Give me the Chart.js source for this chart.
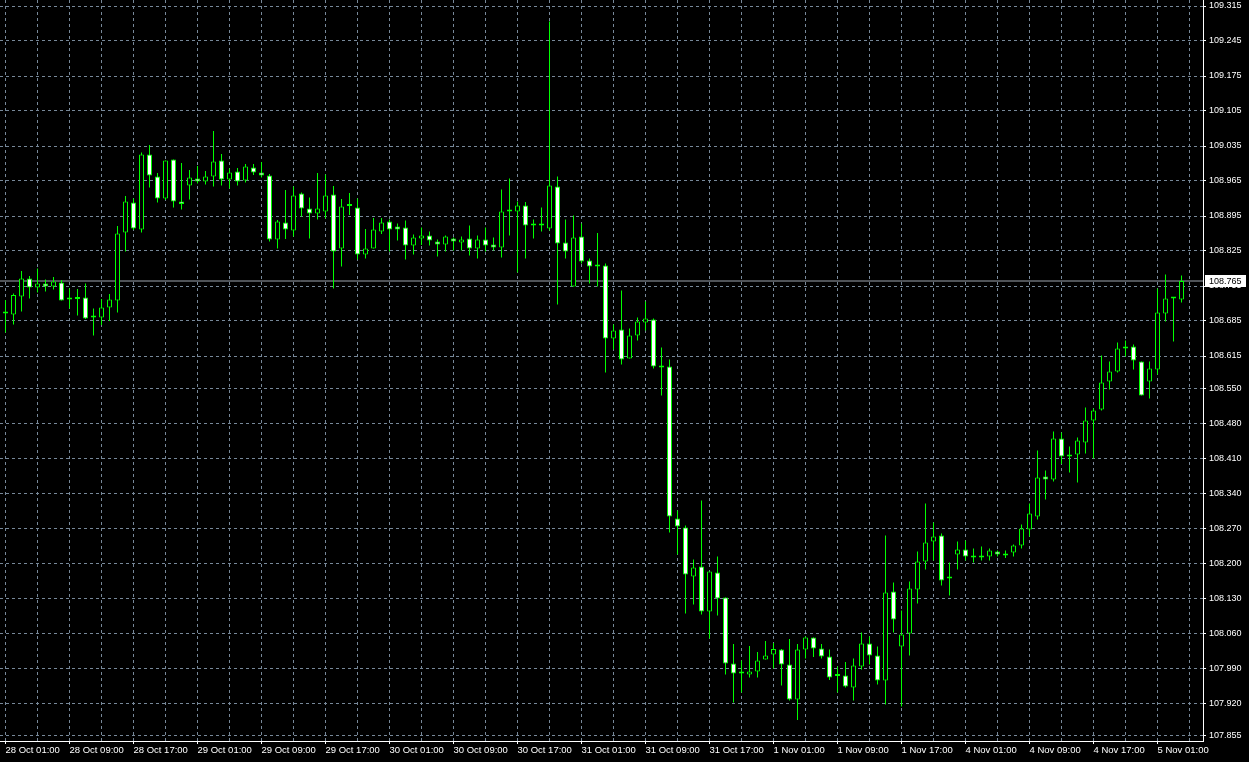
<!DOCTYPE html>
<html>
<head>
<meta charset="utf-8">
<title>USDJPY H1</title>
<script src="https://cdn.jsdelivr.net/npm/chart.js@4.4.1/dist/chart.umd.min.js"></script>
<style>
  html, body { margin: 0; padding: 0; background: #000; }
  #wrap { width: 1249px; height: 762px; background: #000; }
</style>
</head>
<body>
<div id="wrap"><canvas id="chart" width="1249" height="762"></canvas></div>
<script>
// hourly bars, 28 Oct 01:00 -> 5 Nov 04:00
const openPrices = [
  108.700, 108.698, 108.734, 108.770, 108.752, 108.760, 108.754, 108.762, 108.728, 108.729,
  108.732, 108.692, 108.692, 108.712, 108.726, 108.862, 108.922, 108.868, 109.018, 108.974,
  108.930, 109.008, 108.924, 108.956, 108.970, 108.964, 108.974, 109.006, 108.968, 108.984,
  108.966, 108.992, 108.982, 108.976, 108.848, 108.882, 108.866, 108.940, 108.910, 108.900,
  108.904, 108.938, 108.830, 108.915, 108.912, 108.818, 108.830, 108.864, 108.884, 108.874,
  108.872, 108.836, 108.850, 108.856, 108.844, 108.838, 108.850, 108.842, 108.850, 108.830,
  108.848, 108.838, 108.832, 108.904, 108.904, 108.916, 108.876, 108.876, 108.870, 108.954,
  108.842, 108.754, 108.854, 108.806, 108.794, 108.796, 108.650, 108.668, 108.610, 108.656,
  108.682, 108.688, 108.592, 108.594, 108.290, 108.272, 108.174, 108.194, 108.104, 108.182,
  108.132, 108.000, 107.980, 107.978, 107.984, 108.008, 108.018, 108.028, 107.998, 107.928,
  108.028, 108.052, 108.030, 108.014, 107.975, 107.976, 107.952, 107.994, 108.040, 108.016,
  107.966, 108.144, 108.034, 108.060, 108.148, 108.204, 108.244, 108.256, 108.170, 108.218,
  108.228, 108.216, 108.216, 108.214, 108.224, 108.216, 108.222, 108.236, 108.268, 108.294,
  108.374, 108.368, 108.450, 108.414, 108.418, 108.442, 108.486, 108.508, 108.564, 108.584,
  108.630, 108.634, 108.604, 108.564, 108.588, 108.700, 108.730, 108.728
];
const highPrices = [
  108.727, 108.740, 108.785, 108.775, 108.790, 108.768, 108.773, 108.767, 108.750, 108.749,
  108.760, 108.710, 108.729, 108.739, 108.875, 108.935, 108.930, 109.022, 109.037, 108.981,
  109.006, 109.008, 109.001, 108.987, 108.995, 108.985, 109.065, 109.019, 108.990, 108.991,
  108.999, 108.999, 109.003, 108.979, 108.887, 108.947, 108.954, 108.942, 108.932, 108.981,
  108.978, 108.955, 108.929, 108.941, 108.930, 108.869, 108.891, 108.891, 108.888, 108.880,
  108.886, 108.858, 108.872, 108.864, 108.848, 108.856, 108.852, 108.854, 108.876, 108.856,
  108.872, 108.852, 108.948, 108.970, 108.924, 108.923, 108.888, 108.912, 109.284, 108.974,
  108.888, 108.896, 108.880, 108.810, 108.861, 108.800, 108.678, 108.746, 108.670, 108.692,
  108.724, 108.690, 108.632, 108.608, 108.306, 108.276, 108.208, 108.326, 108.184, 108.214,
  108.132, 108.039, 108.006, 108.035, 108.023, 108.045, 108.041, 108.029, 108.049, 108.039,
  108.054, 108.052, 108.039, 108.028, 107.994, 108.003, 108.010, 108.062, 108.054, 108.034,
  108.256, 108.162, 108.106, 108.164, 108.224, 108.320, 108.282, 108.260, 108.202, 108.244,
  108.246, 108.230, 108.234, 108.230, 108.226, 108.226, 108.238, 108.278, 108.320, 108.426,
  108.386, 108.464, 108.462, 108.434, 108.452, 108.512, 108.510, 108.616, 108.604, 108.642,
  108.646, 108.638, 108.604, 108.604, 108.750, 108.778, 108.732, 108.776
];
const lowPrices = [
  108.662, 108.678, 108.704, 108.730, 108.742, 108.744, 108.748, 108.726, 108.710, 108.696,
  108.689, 108.656, 108.677, 108.685, 108.702, 108.824, 108.867, 108.862, 108.952, 108.922,
  108.927, 108.912, 108.908, 108.928, 108.960, 108.958, 108.954, 108.956, 108.950, 108.956,
  108.962, 108.977, 108.972, 108.844, 108.830, 108.849, 108.854, 108.894, 108.850, 108.888,
  108.890, 108.750, 108.794, 108.897, 108.808, 108.810, 108.830, 108.859, 108.824, 108.846,
  108.808, 108.818, 108.837, 108.836, 108.814, 108.824, 108.826, 108.826, 108.816, 108.810,
  108.824, 108.826, 108.812, 108.856, 108.782, 108.810, 108.850, 108.864, 108.866, 108.718,
  108.810, 108.754, 108.800, 108.760, 108.754, 108.582, 108.628, 108.598, 108.610, 108.646,
  108.666, 108.590, 108.536, 108.262, 108.218, 108.100, 108.118, 108.098, 108.050, 108.096,
  107.978, 107.922, 107.942, 107.972, 107.972, 108.008, 107.990, 107.956, 107.926, 107.887,
  108.010, 108.013, 108.010, 107.967, 107.942, 107.952, 107.926, 107.988, 107.998, 107.958,
  107.918, 108.062, 107.914, 108.016, 108.120, 108.188, 108.206, 108.156, 108.136, 108.188,
  108.206, 108.202, 108.206, 108.206, 108.214, 108.211, 108.214, 108.230, 108.254, 108.288,
  108.328, 108.364, 108.399, 108.382, 108.362, 108.420, 108.410, 108.506, 108.548, 108.582,
  108.614, 108.588, 108.536, 108.530, 108.578, 108.684, 108.644, 108.722
];
const closePrices = [
  108.700, 108.737, 108.770, 108.752, 108.760, 108.754, 108.764, 108.726, 108.728, 108.729,
  108.690, 108.692, 108.712, 108.728, 108.860, 108.924, 108.870, 109.018, 108.976, 108.930,
  109.006, 108.924, 108.919, 108.972, 108.964, 108.974, 109.004, 108.968, 108.982, 108.964,
  108.994, 108.982, 108.976, 108.848, 108.884, 108.868, 108.936, 108.910, 108.900, 108.910,
  108.936, 108.824, 108.914, 108.915, 108.818, 108.830, 108.868, 108.882, 108.868, 108.868,
  108.836, 108.852, 108.856, 108.846, 108.838, 108.854, 108.844, 108.848, 108.830, 108.848,
  108.836, 108.832, 108.904, 108.904, 108.916, 108.876, 108.876, 108.876, 108.956, 108.840,
  108.824, 108.852, 108.804, 108.794, 108.794, 108.650, 108.666, 108.608, 108.656, 108.684,
  108.690, 108.594, 108.592, 108.294, 108.274, 108.178, 108.192, 108.104, 108.184, 108.130,
  108.000, 107.980, 107.980, 107.984, 108.006, 108.016, 108.029, 107.998, 107.928, 108.028,
  108.052, 108.030, 108.014, 107.972, 107.975, 107.954, 107.996, 108.040, 108.016, 107.966,
  108.142, 108.088, 108.058, 108.150, 108.204, 108.242, 108.254, 108.166, 108.170, 108.228,
  108.214, 108.212, 108.212, 108.226, 108.218, 108.220, 108.236, 108.270, 108.300, 108.372,
  108.368, 108.450, 108.414, 108.418, 108.446, 108.486, 108.506, 108.562, 108.584, 108.630,
  108.634, 108.606, 108.536, 108.590, 108.702, 108.730, 108.730, 108.765
];

// one label every 8 bars, starting at bar 0
const timeLabels = [
  '28 Oct 01:00', '28 Oct 09:00', '28 Oct 17:00', '29 Oct 01:00', '29 Oct 09:00',
  '29 Oct 17:00', '30 Oct 01:00', '30 Oct 09:00', '30 Oct 17:00', '31 Oct 01:00',
  '31 Oct 09:00', '31 Oct 17:00', '1 Nov 01:00', '1 Nov 09:00', '1 Nov 17:00',
  '4 Nov 01:00', '4 Nov 09:00', '4 Nov 17:00', '5 Nov 01:00'
];
const priceTicks = [
  109.315, 109.245, 109.175, 109.105, 109.035, 108.965, 108.895, 108.825, 108.755, 108.685,
  108.615, 108.550, 108.480, 108.410, 108.340, 108.270, 108.200, 108.130, 108.060, 107.990,
  107.920, 107.855
];

const GREEN = '#00ff00';
const GRID = '#778899';
const FAMILY = '"Liberation Sans", Arial, sans-serif';

const xMin = -0.6875;
const xMax = 149.6875;

const idx = openPrices.map((_, i) => i);
const wicks = idx.map(i => ({ x: i, y: [lowPrices[i], highPrices[i]] }));
const bodies = idx.map(i => ({
  x: i,
  y: [Math.min(openPrices[i], closePrices[i]), Math.max(openPrices[i], closePrices[i])]
}));
const bodyFill = idx.map(i => closePrices[i] < openPrices[i] ? '#ffffff' : '#000000');
const lastClose = closePrices[closePrices.length - 1];

const gridSteps = [];
for (let v = 0; v <= 148; v += 4) gridSteps.push(v);

// white box with the current price on the price scale
const priceTag = {
  id: 'priceTag',
  afterDraw(chart) {
    const { ctx } = chart;
    const y = chart.scales.y;
    const py = Math.round(y.getPixelForValue(lastClose));
    ctx.save();
    ctx.fillStyle = '#ffffff';
    ctx.fillRect(y.left + 2, py - 6, 41, 12);
    ctx.fillStyle = '#000000';
    ctx.font = '9px ' + FAMILY;
    ctx.textBaseline = 'middle';
    ctx.fillText(lastClose.toFixed(3), y.left + 6, py + 0.5);
    ctx.restore();
  }
};

new Chart(document.getElementById('chart'), {
  type: 'bar',
  data: {
    datasets: [
      {
        label: 'body',
        data: bodies,
        order: 0,
        grouped: false,
        barThickness: 5,
        minBarLength: 2,
        backgroundColor: bodyFill,
        borderColor: GREEN,
        borderWidth: 1,
        borderSkipped: false,
        inflateAmount: 0
      },
      {
        label: 'wick',
        data: wicks,
        order: 1,
        grouped: false,
        barThickness: 1,
        backgroundColor: GREEN,
        borderWidth: 0,
        inflateAmount: 0
      },
      {
        type: 'line',
        label: 'price',
        data: [{ x: xMin, y: lastClose }, { x: xMax, y: lastClose }],
        order: 2,
        borderColor: '#9ea6b0',
        borderWidth: 1,
        pointRadius: 0
      }
    ]
  },
  options: {
    responsive: false,
    animation: false,
    devicePixelRatio: 1,
    layout: { padding: 0 },
    plugins: { legend: { display: false }, tooltip: { enabled: false } },
    scales: {
      x: {
        type: 'linear',
        position: 'bottom',
        min: xMin,
        max: xMax,
        offset: false,
        afterBuildTicks: s => { s.ticks = gridSteps.map(v => ({ value: v })); },
        afterFit: s => { s.height = 21; s.paddingLeft = 0; s.paddingRight = 0; },
        grid: {
          offset: false,
          color: GRID,
          lineWidth: 1,
          tickLength: 3,
          tickBorderDash: [],
          tickColor: c => (c.tick && c.tick.value % 8 === 0) ? '#ffffff' : 'rgba(0,0,0,0)'
        },
        border: { display: true, color: '#ffffff', width: 1, dash: [3, 3] },
        ticks: {
          color: '#ffffff',
          font: { family: FAMILY, size: 9.5 },
          align: 'start',
          autoSkip: false,
          maxRotation: 0,
          padding: 1,
          callback: v => v % 8 === 0 ? timeLabels[v / 8] : ''
        }
      },
      y: {
        position: 'right',
        min: 107.845,
        max: 109.327,
        bounds: 'data',
        afterBuildTicks: s => { s.ticks = priceTicks.map(v => ({ value: v })); },
        afterFit: s => { s.width = 46; s.paddingTop = 0; s.paddingBottom = 0; },
        grid: {
          color: GRID,
          lineWidth: 1,
          tickLength: 3,
          tickBorderDash: [],
          tickColor: '#ffffff'
        },
        border: { display: true, color: '#ffffff', width: 1, dash: [3, 3] },
        ticks: {
          color: '#ffffff',
          font: { family: FAMILY, size: 9 },
          autoSkip: false,
          padding: 3,
          callback: v => v.toFixed(3)
        }
      }
    }
  },
  plugins: [priceTag]
});
</script>
</body>
</html>
